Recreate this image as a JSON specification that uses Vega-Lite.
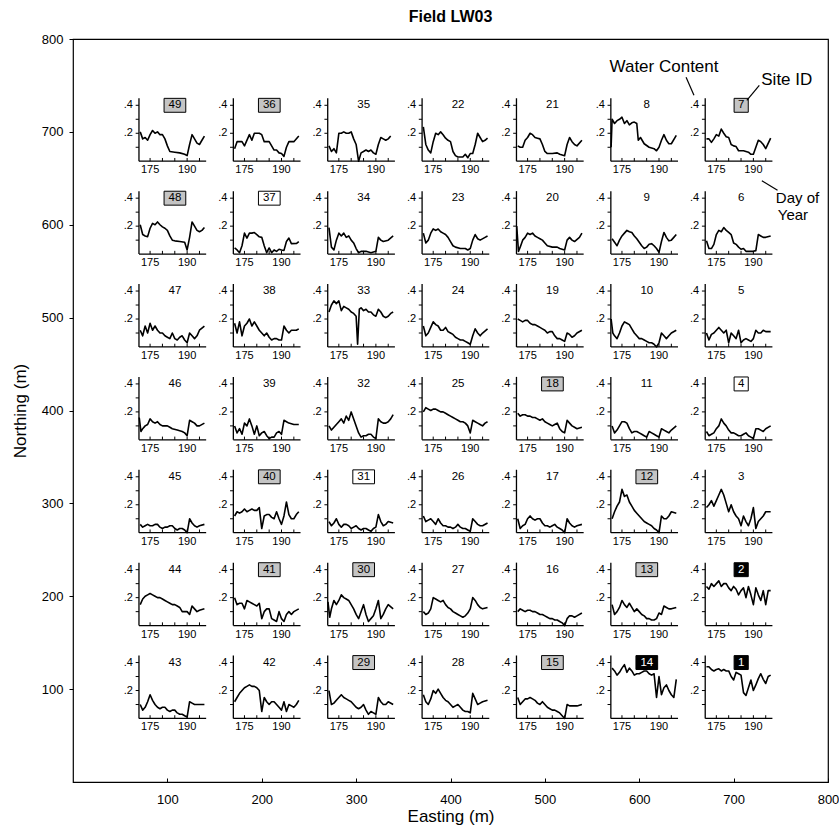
{
"$schema":"https://vega.github.io/schema/vega-lite/v6.json",
"width":755,"height":743,
"autosize":{"type":"none"},
"padding":{"left":73,"top":39,"right":11,"bottom":45},
"title":{"text":"Field LW03","fontSize":16,"fontWeight":"bold","font":"Liberation Sans","offset":8,"frame":"group","anchor":"middle","color":"black"},
"config":{"view":{"stroke":"black","strokeWidth":1.2},"font":"Liberation Sans",
"axis":{"grid":false,"domain":false,"tickColor":"black","labelColor":"black","titleColor":"black","labelFont":"Liberation Sans","titleFont":"Liberation Sans","labelFontSize":13,"titleFontSize":17,"titleFontWeight":"normal"},
"text":{"font":"Liberation Sans","color":"black"}},
"datasets":{
"sites":[
{"site":49,"easting":100,"northing":700,"box":"shaded"},{"site":48,"easting":100,"northing":600,"box":"shaded"},{"site":47,"easting":100,"northing":500,"box":"none"},{"site":46,"easting":100,"northing":400,"box":"none"},{"site":45,"easting":100,"northing":300,"box":"none"},{"site":44,"easting":100,"northing":200,"box":"none"},{"site":43,"easting":100,"northing":100,"box":"none"},
{"site":36,"easting":200,"northing":700,"box":"shaded"},{"site":37,"easting":200,"northing":600,"box":"white"},{"site":38,"easting":200,"northing":500,"box":"none"},{"site":39,"easting":200,"northing":400,"box":"none"},{"site":40,"easting":200,"northing":300,"box":"shaded"},{"site":41,"easting":200,"northing":200,"box":"shaded"},{"site":42,"easting":200,"northing":100,"box":"none"},
{"site":35,"easting":300,"northing":700,"box":"none"},{"site":34,"easting":300,"northing":600,"box":"none"},{"site":33,"easting":300,"northing":500,"box":"none"},{"site":32,"easting":300,"northing":400,"box":"none"},{"site":31,"easting":300,"northing":300,"box":"white"},{"site":30,"easting":300,"northing":200,"box":"shaded"},{"site":29,"easting":300,"northing":100,"box":"shaded"},
{"site":22,"easting":400,"northing":700,"box":"none"},{"site":23,"easting":400,"northing":600,"box":"none"},{"site":24,"easting":400,"northing":500,"box":"none"},{"site":25,"easting":400,"northing":400,"box":"none"},{"site":26,"easting":400,"northing":300,"box":"none"},{"site":27,"easting":400,"northing":200,"box":"none"},{"site":28,"easting":400,"northing":100,"box":"none"},
{"site":21,"easting":500,"northing":700,"box":"none"},{"site":20,"easting":500,"northing":600,"box":"none"},{"site":19,"easting":500,"northing":500,"box":"none"},{"site":18,"easting":500,"northing":400,"box":"shaded"},{"site":17,"easting":500,"northing":300,"box":"none"},{"site":16,"easting":500,"northing":200,"box":"none"},{"site":15,"easting":500,"northing":100,"box":"shaded"},
{"site":8,"easting":600,"northing":700,"box":"none"},{"site":9,"easting":600,"northing":600,"box":"none"},{"site":10,"easting":600,"northing":500,"box":"none"},{"site":11,"easting":600,"northing":400,"box":"none"},{"site":12,"easting":600,"northing":300,"box":"shaded"},{"site":13,"easting":600,"northing":200,"box":"shaded"},{"site":14,"easting":600,"northing":100,"box":"black"},
{"site":7,"easting":700,"northing":700,"box":"shaded"},{"site":6,"easting":700,"northing":600,"box":"none"},{"site":5,"easting":700,"northing":500,"box":"none"},{"site":4,"easting":700,"northing":400,"box":"white"},{"site":3,"easting":700,"northing":300,"box":"none"},{"site":2,"easting":700,"northing":200,"box":"black"},{"site":1,"easting":700,"northing":100,"box":"black"}
],
"notes":[
{"label":"Water Content","easting":568.5,"northing":769.6,"size":"large"},
{"label":"Site ID","easting":729.3,"northing":755.7,"size":"large"},
{"label":"Day of","easting":744.7,"northing":628.6,"size":"small"},
{"label":"Year","easting":746.8,"northing":610.3,"size":"small"}
],
"leaders":[
{"e1":649.6,"n1":758.8,"e2":658,"n2":739.5},
{"e1":727.2,"n1":750,"e2":714,"n2":734},
{"e1":729.9,"n1":647.4,"e2":746.5,"n2":637.2}
],
"wc":[
{"site":49,"day":171,"wc":0.21},{"site":49,"day":172,"wc":0.16},{"site":49,"day":173,"wc":0.17},{"site":49,"day":174,"wc":0.15},{"site":49,"day":175,"wc":0.19},{"site":49,"day":176,"wc":0.22},{"site":49,"day":177,"wc":0.2},{"site":49,"day":178,"wc":0.21},{"site":49,"day":179,"wc":0.19},{"site":49,"day":180,"wc":0.19},{"site":49,"day":181,"wc":0.16},{"site":49,"day":182,"wc":0.11},{"site":49,"day":183,"wc":0.07},{"site":49,"day":185,"wc":0.065},{"site":49,"day":187,"wc":0.06},{"site":49,"day":189,"wc":0.05},{"site":49,"day":190,"wc":0.04},{"site":49,"day":191,"wc":0.12},{"site":49,"day":192,"wc":0.19},{"site":49,"day":193,"wc":0.16},{"site":49,"day":194,"wc":0.13},{"site":49,"day":195,"wc":0.12},{"site":49,"day":196,"wc":0.15},{"site":49,"day":197,"wc":0.18},
{"site":36,"day":171,"wc":0.09},{"site":36,"day":172,"wc":0.14},{"site":36,"day":173,"wc":0.14},{"site":36,"day":174,"wc":0.14},{"site":36,"day":175,"wc":0.11},{"site":36,"day":177,"wc":0.19},{"site":36,"day":178,"wc":0.15},{"site":36,"day":179,"wc":0.2},{"site":36,"day":181,"wc":0.2},{"site":36,"day":182,"wc":0.19},{"site":36,"day":183,"wc":0.14},{"site":36,"day":185,"wc":0.14},{"site":36,"day":187,"wc":0.08},{"site":36,"day":188,"wc":0.08},{"site":36,"day":189,"wc":0.06},{"site":36,"day":190,"wc":0.055},{"site":36,"day":191,"wc":0.035},{"site":36,"day":192,"wc":0.1},{"site":36,"day":193,"wc":0.14},{"site":36,"day":195,"wc":0.14},{"site":36,"day":197,"wc":0.18},
{"site":35,"day":171,"wc":0.11},{"site":35,"day":172,"wc":0.07},{"site":35,"day":173,"wc":0.09},{"site":35,"day":174,"wc":0.06},{"site":35,"day":175,"wc":0.2},{"site":35,"day":176,"wc":0.2},{"site":35,"day":177,"wc":0.21},{"site":35,"day":178,"wc":0.2},{"site":35,"day":179,"wc":0.2},{"site":35,"day":180,"wc":0.21},{"site":35,"day":181,"wc":0.16},{"site":35,"day":182,"wc":0.12},{"site":35,"day":183,"wc":0.0},{"site":35,"day":184,"wc":0.06},{"site":35,"day":185,"wc":0.07},{"site":35,"day":186,"wc":0.08},{"site":35,"day":187,"wc":0.07},{"site":35,"day":188,"wc":0.08},{"site":35,"day":189,"wc":0.06},{"site":35,"day":190,"wc":0.05},{"site":35,"day":191,"wc":0.12},{"site":35,"day":192,"wc":0.17},{"site":35,"day":193,"wc":0.16},{"site":35,"day":194,"wc":0.15},{"site":35,"day":195,"wc":0.16},{"site":35,"day":196,"wc":0.18},
{"site":22,"day":171,"wc":0.245},{"site":22,"day":172,"wc":0.12},{"site":22,"day":173,"wc":0.08},{"site":22,"day":174,"wc":0.06},{"site":22,"day":175,"wc":0.14},{"site":22,"day":176,"wc":0.2},{"site":22,"day":177,"wc":0.19},{"site":22,"day":178,"wc":0.21},{"site":22,"day":179,"wc":0.19},{"site":22,"day":180,"wc":0.165},{"site":22,"day":181,"wc":0.15},{"site":22,"day":182,"wc":0.14},{"site":22,"day":183,"wc":0.07},{"site":22,"day":184,"wc":0.04},{"site":22,"day":185,"wc":0.03},{"site":22,"day":187,"wc":0.03},{"site":22,"day":188,"wc":0.05},{"site":22,"day":189,"wc":0.025},{"site":22,"day":190,"wc":0.055},{"site":22,"day":191,"wc":0.055},{"site":22,"day":192,"wc":0.12},{"site":22,"day":193,"wc":0.2},{"site":22,"day":194,"wc":0.17},{"site":22,"day":195,"wc":0.14},{"site":22,"day":196,"wc":0.15},{"site":22,"day":197,"wc":0.165},
{"site":21,"day":171,"wc":0.11},{"site":21,"day":172,"wc":0.1},{"site":21,"day":173,"wc":0.1},{"site":21,"day":174,"wc":0.15},{"site":21,"day":175,"wc":0.17},{"site":21,"day":176,"wc":0.2},{"site":21,"day":177,"wc":0.19},{"site":21,"day":178,"wc":0.17},{"site":21,"day":179,"wc":0.165},{"site":21,"day":180,"wc":0.16},{"site":21,"day":181,"wc":0.12},{"site":21,"day":182,"wc":0.07},{"site":21,"day":183,"wc":0.055},{"site":21,"day":185,"wc":0.055},{"site":21,"day":187,"wc":0.06},{"site":21,"day":188,"wc":0.05},{"site":21,"day":190,"wc":0.04},{"site":21,"day":191,"wc":0.12},{"site":21,"day":192,"wc":0.17},{"site":21,"day":193,"wc":0.14},{"site":21,"day":194,"wc":0.12},{"site":21,"day":195,"wc":0.11},{"site":21,"day":197,"wc":0.15},
{"site":8,"day":170.6,"wc":0.1},{"site":8,"day":171,"wc":0.3},{"site":8,"day":172,"wc":0.27},{"site":8,"day":173,"wc":0.29},{"site":8,"day":174,"wc":0.3},{"site":8,"day":175,"wc":0.315},{"site":8,"day":176,"wc":0.27},{"site":8,"day":177,"wc":0.29},{"site":8,"day":178,"wc":0.26},{"site":8,"day":179,"wc":0.275},{"site":8,"day":180,"wc":0.28},{"site":8,"day":181,"wc":0.27},{"site":8,"day":181.6,"wc":0.15},{"site":8,"day":182.5,"wc":0.17},{"site":8,"day":184,"wc":0.125},{"site":8,"day":186,"wc":0.1},{"site":8,"day":188,"wc":0.09},{"site":8,"day":189,"wc":0.075},{"site":8,"day":190,"wc":0.1},{"site":8,"day":191,"wc":0.15},{"site":8,"day":192,"wc":0.19},{"site":8,"day":193,"wc":0.15},{"site":8,"day":194,"wc":0.125},{"site":8,"day":195,"wc":0.125},{"site":8,"day":197,"wc":0.185},
{"site":7,"day":171,"wc":0.16},{"site":7,"day":172,"wc":0.16},{"site":7,"day":173,"wc":0.135},{"site":7,"day":174,"wc":0.16},{"site":7,"day":175,"wc":0.19},{"site":7,"day":176,"wc":0.18},{"site":7,"day":177,"wc":0.23},{"site":7,"day":178,"wc":0.2},{"site":7,"day":179,"wc":0.175},{"site":7,"day":180,"wc":0.17},{"site":7,"day":181,"wc":0.12},{"site":7,"day":182,"wc":0.11},{"site":7,"day":183,"wc":0.105},{"site":7,"day":184,"wc":0.075},{"site":7,"day":186,"wc":0.075},{"site":7,"day":188,"wc":0.065},{"site":7,"day":189,"wc":0.05},{"site":7,"day":190,"wc":0.05},{"site":7,"day":191,"wc":0.1},{"site":7,"day":192,"wc":0.15},{"site":7,"day":193,"wc":0.14},{"site":7,"day":194,"wc":0.12},{"site":7,"day":195,"wc":0.09},{"site":7,"day":197,"wc":0.165},
{"site":48,"day":171,"wc":0.21},{"site":48,"day":172,"wc":0.14},{"site":48,"day":173,"wc":0.13},{"site":48,"day":174,"wc":0.125},{"site":48,"day":175,"wc":0.185},{"site":48,"day":176,"wc":0.22},{"site":48,"day":177,"wc":0.21},{"site":48,"day":178,"wc":0.23},{"site":48,"day":179,"wc":0.21},{"site":48,"day":180,"wc":0.195},{"site":48,"day":181,"wc":0.185},{"site":48,"day":182,"wc":0.17},{"site":48,"day":183,"wc":0.13},{"site":48,"day":184,"wc":0.1},{"site":48,"day":185,"wc":0.095},{"site":48,"day":187,"wc":0.09},{"site":48,"day":189,"wc":0.085},{"site":48,"day":190,"wc":0.03},{"site":48,"day":191,"wc":0.12},{"site":48,"day":192,"wc":0.23},{"site":48,"day":193,"wc":0.2},{"site":48,"day":194,"wc":0.17},{"site":48,"day":195,"wc":0.16},{"site":48,"day":196,"wc":0.17},{"site":48,"day":197,"wc":0.19},
{"site":37,"day":171,"wc":0.044},{"site":37,"day":172,"wc":0.03},{"site":37,"day":173,"wc":0.01},{"site":37,"day":174,"wc":0.06},{"site":37,"day":175,"wc":0.15},{"site":37,"day":176,"wc":0.115},{"site":37,"day":177,"wc":0.15},{"site":37,"day":178,"wc":0.15},{"site":37,"day":179,"wc":0.154},{"site":37,"day":180,"wc":0.14},{"site":37,"day":181,"wc":0.124},{"site":37,"day":182,"wc":0.12},{"site":37,"day":183,"wc":0.06},{"site":37,"day":184,"wc":0.01},{"site":37,"day":185,"wc":0.044},{"site":37,"day":186,"wc":0.01},{"site":37,"day":187,"wc":0.03},{"site":37,"day":188,"wc":0.02},{"site":37,"day":189,"wc":0.035},{"site":37,"day":190,"wc":0.03},{"site":37,"day":191,"wc":0.027},{"site":37,"day":192,"wc":0.09},{"site":37,"day":193,"wc":0.115},{"site":37,"day":194,"wc":0.075},{"site":37,"day":196,"wc":0.076},{"site":37,"day":197,"wc":0.09},
{"site":34,"day":171,"wc":0.19},{"site":34,"day":172,"wc":0.05},{"site":34,"day":173,"wc":0.03},{"site":34,"day":174,"wc":0.1},{"site":34,"day":175,"wc":0.15},{"site":34,"day":176,"wc":0.13},{"site":34,"day":177,"wc":0.15},{"site":34,"day":178,"wc":0.12},{"site":34,"day":179,"wc":0.13},{"site":34,"day":180,"wc":0.1},{"site":34,"day":181,"wc":0.08},{"site":34,"day":182,"wc":0.04},{"site":34,"day":183,"wc":0.01},{"site":34,"day":184,"wc":0.02},{"site":34,"day":186,"wc":0.02},{"site":34,"day":188,"wc":0.01},{"site":34,"day":190,"wc":0.02},{"site":34,"day":191,"wc":0.12},{"site":34,"day":192,"wc":0.1},{"site":34,"day":193,"wc":0.09},{"site":34,"day":195,"wc":0.1},{"site":34,"day":197,"wc":0.13},
{"site":23,"day":171,"wc":0.15},{"site":23,"day":172,"wc":0.08},{"site":23,"day":173,"wc":0.1},{"site":23,"day":174,"wc":0.15},{"site":23,"day":175,"wc":0.18},{"site":23,"day":176,"wc":0.17},{"site":23,"day":177,"wc":0.18},{"site":23,"day":178,"wc":0.16},{"site":23,"day":179,"wc":0.15},{"site":23,"day":180,"wc":0.14},{"site":23,"day":181,"wc":0.12},{"site":23,"day":182,"wc":0.09},{"site":23,"day":183,"wc":0.06},{"site":23,"day":184,"wc":0.05},{"site":23,"day":186,"wc":0.04},{"site":23,"day":188,"wc":0.04},{"site":23,"day":189,"wc":0.03},{"site":23,"day":190,"wc":0.04},{"site":23,"day":191,"wc":0.1},{"site":23,"day":192,"wc":0.14},{"site":23,"day":193,"wc":0.11},{"site":23,"day":194,"wc":0.1},{"site":23,"day":196,"wc":0.12},{"site":23,"day":197,"wc":0.13},
{"site":20,"day":170.6,"wc":0.2},{"site":20,"day":171.3,"wc":0.02},{"site":20,"day":172,"wc":0.05},{"site":20,"day":173,"wc":0.1},{"site":20,"day":174,"wc":0.12},{"site":20,"day":175,"wc":0.15},{"site":20,"day":176,"wc":0.14},{"site":20,"day":177,"wc":0.15},{"site":20,"day":178,"wc":0.13},{"site":20,"day":179,"wc":0.12},{"site":20,"day":180,"wc":0.11},{"site":20,"day":181,"wc":0.1},{"site":20,"day":182,"wc":0.08},{"site":20,"day":183,"wc":0.06},{"site":20,"day":185,"wc":0.05},{"site":20,"day":187,"wc":0.05},{"site":20,"day":188,"wc":0.04},{"site":20,"day":190,"wc":0.03},{"site":20,"day":191,"wc":0.1},{"site":20,"day":192,"wc":0.12},{"site":20,"day":193,"wc":0.1},{"site":20,"day":194,"wc":0.09},{"site":20,"day":196,"wc":0.12},{"site":20,"day":197,"wc":0.15},
{"site":9,"day":171,"wc":0.11},{"site":9,"day":172,"wc":0.085},{"site":9,"day":173,"wc":0.06},{"site":9,"day":174,"wc":0.1},{"site":9,"day":175,"wc":0.13},{"site":9,"day":176,"wc":0.15},{"site":9,"day":177,"wc":0.17},{"site":9,"day":178,"wc":0.16},{"site":9,"day":179,"wc":0.155},{"site":9,"day":180,"wc":0.13},{"site":9,"day":181,"wc":0.11},{"site":9,"day":182,"wc":0.085},{"site":9,"day":183,"wc":0.06},{"site":9,"day":184,"wc":0.04},{"site":9,"day":185,"wc":0.05},{"site":9,"day":186,"wc":0.07},{"site":9,"day":187,"wc":0.075},{"site":9,"day":188,"wc":0.06},{"site":9,"day":189,"wc":0.04},{"site":9,"day":190,"wc":0.013},{"site":9,"day":191,"wc":0.09},{"site":9,"day":192,"wc":0.155},{"site":9,"day":193,"wc":0.12},{"site":9,"day":194,"wc":0.095},{"site":9,"day":195,"wc":0.1},{"site":9,"day":196,"wc":0.12},{"site":9,"day":197,"wc":0.14},
{"site":6,"day":171,"wc":0.095},{"site":6,"day":172,"wc":0.04},{"site":6,"day":173,"wc":0.04},{"site":6,"day":174,"wc":0.07},{"site":6,"day":175,"wc":0.14},{"site":6,"day":176,"wc":0.17},{"site":6,"day":177,"wc":0.16},{"site":6,"day":178,"wc":0.19},{"site":6,"day":179,"wc":0.17},{"site":6,"day":180,"wc":0.155},{"site":6,"day":181,"wc":0.14},{"site":6,"day":182,"wc":0.08},{"site":6,"day":183,"wc":0.07},{"site":6,"day":184,"wc":0.05},{"site":6,"day":185,"wc":0.035},{"site":6,"day":186,"wc":0.04},{"site":6,"day":187,"wc":0.02},{"site":6,"day":188,"wc":0.02},{"site":6,"day":190,"wc":0.02},{"site":6,"day":191,"wc":0.025},{"site":6,"day":192,"wc":0.14},{"site":6,"day":193,"wc":0.13},{"site":6,"day":194,"wc":0.12},{"site":6,"day":195,"wc":0.12},{"site":6,"day":197,"wc":0.13},
{"site":47,"day":171,"wc":0.12},{"site":47,"day":172,"wc":0.08},{"site":47,"day":173,"wc":0.15},{"site":47,"day":174,"wc":0.1},{"site":47,"day":175,"wc":0.17},{"site":47,"day":176,"wc":0.12},{"site":47,"day":177,"wc":0.15},{"site":47,"day":178,"wc":0.12},{"site":47,"day":179,"wc":0.1},{"site":47,"day":180,"wc":0.1},{"site":47,"day":181,"wc":0.08},{"site":47,"day":182,"wc":0.07},{"site":47,"day":183,"wc":0.06},{"site":47,"day":184,"wc":0.1},{"site":47,"day":185,"wc":0.06},{"site":47,"day":186,"wc":0.05},{"site":47,"day":187,"wc":0.07},{"site":47,"day":188,"wc":0.08},{"site":47,"day":189,"wc":0.05},{"site":47,"day":190,"wc":0.03},{"site":47,"day":191,"wc":0.1},{"site":47,"day":192,"wc":0.08},{"site":47,"day":193,"wc":0.06},{"site":47,"day":194,"wc":0.08},{"site":47,"day":195,"wc":0.12},{"site":47,"day":197,"wc":0.15},
{"site":38,"day":171,"wc":0.17},{"site":38,"day":172,"wc":0.1},{"site":38,"day":173,"wc":0.18},{"site":38,"day":174,"wc":0.08},{"site":38,"day":175,"wc":0.15},{"site":38,"day":176,"wc":0.17},{"site":38,"day":177,"wc":0.2},{"site":38,"day":178,"wc":0.15},{"site":38,"day":179,"wc":0.18},{"site":38,"day":180,"wc":0.15},{"site":38,"day":181,"wc":0.12},{"site":38,"day":182,"wc":0.1},{"site":38,"day":183,"wc":0.08},{"site":38,"day":184,"wc":0.1},{"site":38,"day":185,"wc":0.07},{"site":38,"day":186,"wc":0.05},{"site":38,"day":187,"wc":0.06},{"site":38,"day":188,"wc":0.06},{"site":38,"day":189,"wc":0.05},{"site":38,"day":190,"wc":0.05},{"site":38,"day":191,"wc":0.15},{"site":38,"day":192,"wc":0.12},{"site":38,"day":193,"wc":0.1},{"site":38,"day":194,"wc":0.12},{"site":38,"day":196,"wc":0.12},{"site":38,"day":197,"wc":0.13},
{"site":33,"day":171,"wc":0.25},{"site":33,"day":172,"wc":0.3},{"site":33,"day":173,"wc":0.33},{"site":33,"day":174,"wc":0.31},{"site":33,"day":175,"wc":0.33},{"site":33,"day":176,"wc":0.26},{"site":33,"day":177,"wc":0.29},{"site":33,"day":178,"wc":0.28},{"site":33,"day":179,"wc":0.27},{"site":33,"day":180,"wc":0.25},{"site":33,"day":181,"wc":0.24},{"site":33,"day":182,"wc":0.22},{"site":33,"day":182.6,"wc":0.02},{"site":33,"day":183.3,"wc":0.27},{"site":33,"day":184,"wc":0.28},{"site":33,"day":185,"wc":0.26},{"site":33,"day":186,"wc":0.27},{"site":33,"day":187,"wc":0.25},{"site":33,"day":188,"wc":0.25},{"site":33,"day":189,"wc":0.23},{"site":33,"day":190,"wc":0.22},{"site":33,"day":191,"wc":0.27},{"site":33,"day":192,"wc":0.25},{"site":33,"day":193,"wc":0.22},{"site":33,"day":194,"wc":0.21},{"site":33,"day":195,"wc":0.22},{"site":33,"day":196,"wc":0.24},{"site":33,"day":197,"wc":0.25},
{"site":24,"day":171,"wc":0.15},{"site":24,"day":172,"wc":0.08},{"site":24,"day":173,"wc":0.1},{"site":24,"day":174,"wc":0.14},{"site":24,"day":175,"wc":0.18},{"site":24,"day":176,"wc":0.16},{"site":24,"day":177,"wc":0.15},{"site":24,"day":178,"wc":0.12},{"site":24,"day":179,"wc":0.12},{"site":24,"day":180,"wc":0.14},{"site":24,"day":181,"wc":0.11},{"site":24,"day":182,"wc":0.1},{"site":24,"day":183,"wc":0.09},{"site":24,"day":184,"wc":0.07},{"site":24,"day":185,"wc":0.06},{"site":24,"day":186,"wc":0.05},{"site":24,"day":187,"wc":0.05},{"site":24,"day":188,"wc":0.04},{"site":24,"day":189,"wc":0.03},{"site":24,"day":190,"wc":0.02},{"site":24,"day":191,"wc":0.08},{"site":24,"day":192,"wc":0.13},{"site":24,"day":193,"wc":0.1},{"site":24,"day":194,"wc":0.08},{"site":24,"day":195,"wc":0.1},{"site":24,"day":197,"wc":0.13},
{"site":19,"day":171,"wc":0.2},{"site":19,"day":172,"wc":0.19},{"site":19,"day":173,"wc":0.18},{"site":19,"day":174,"wc":0.19},{"site":19,"day":175,"wc":0.19},{"site":19,"day":176,"wc":0.17},{"site":19,"day":177,"wc":0.16},{"site":19,"day":178,"wc":0.16},{"site":19,"day":179,"wc":0.15},{"site":19,"day":180,"wc":0.14},{"site":19,"day":181,"wc":0.13},{"site":19,"day":182,"wc":0.12},{"site":19,"day":183,"wc":0.1},{"site":19,"day":184,"wc":0.11},{"site":19,"day":185,"wc":0.11},{"site":19,"day":186,"wc":0.08},{"site":19,"day":187,"wc":0.06},{"site":19,"day":188,"wc":0.06},{"site":19,"day":189,"wc":0.05},{"site":19,"day":190,"wc":0.04},{"site":19,"day":191,"wc":0.1},{"site":19,"day":192,"wc":0.09},{"site":19,"day":193,"wc":0.07},{"site":19,"day":194,"wc":0.08},{"site":19,"day":195,"wc":0.1},{"site":19,"day":197,"wc":0.12},
{"site":10,"day":170.6,"wc":0.2},{"site":10,"day":171.3,"wc":0.1},{"site":10,"day":172,"wc":0.08},{"site":10,"day":173,"wc":0.06},{"site":10,"day":174,"wc":0.1},{"site":10,"day":175,"wc":0.15},{"site":10,"day":176,"wc":0.18},{"site":10,"day":177,"wc":0.17},{"site":10,"day":178,"wc":0.16},{"site":10,"day":179,"wc":0.13},{"site":10,"day":180,"wc":0.1},{"site":10,"day":181,"wc":0.08},{"site":10,"day":182,"wc":0.06},{"site":10,"day":183,"wc":0.06},{"site":10,"day":184,"wc":0.05},{"site":10,"day":185,"wc":0.04},{"site":10,"day":186,"wc":0.03},{"site":10,"day":187,"wc":0.03},{"site":10,"day":188,"wc":0.02},{"site":10,"day":189,"wc":0.0},{"site":10,"day":190,"wc":0.03},{"site":10,"day":191,"wc":0.1},{"site":10,"day":192,"wc":0.08},{"site":10,"day":193,"wc":0.06},{"site":10,"day":194,"wc":0.08},{"site":10,"day":195,"wc":0.1},{"site":10,"day":197,"wc":0.12},
{"site":5,"day":171,"wc":0.1},{"site":5,"day":172,"wc":0.05},{"site":5,"day":173,"wc":0.09},{"site":5,"day":174,"wc":0.1},{"site":5,"day":175,"wc":0.12},{"site":5,"day":176,"wc":0.14},{"site":5,"day":177,"wc":0.12},{"site":5,"day":178,"wc":0.1},{"site":5,"day":179,"wc":0.12},{"site":5,"day":180,"wc":0.03},{"site":5,"day":181,"wc":0.1},{"site":5,"day":182,"wc":0.08},{"site":5,"day":183,"wc":0.06},{"site":5,"day":184,"wc":0.12},{"site":5,"day":185,"wc":0.03},{"site":5,"day":186,"wc":0.05},{"site":5,"day":187,"wc":0.06},{"site":5,"day":188,"wc":0.05},{"site":5,"day":189,"wc":0.04},{"site":5,"day":190,"wc":0.06},{"site":5,"day":191,"wc":0.12},{"site":5,"day":192,"wc":0.1},{"site":5,"day":193,"wc":0.1},{"site":5,"day":194,"wc":0.12},{"site":5,"day":195,"wc":0.11},{"site":5,"day":197,"wc":0.11},
{"site":46,"day":170.6,"wc":0.16},{"site":46,"day":171.3,"wc":0.06},{"site":46,"day":172,"wc":0.08},{"site":46,"day":173,"wc":0.1},{"site":46,"day":174,"wc":0.11},{"site":46,"day":175,"wc":0.15},{"site":46,"day":176,"wc":0.13},{"site":46,"day":177,"wc":0.12},{"site":46,"day":178,"wc":0.13},{"site":46,"day":179,"wc":0.11},{"site":46,"day":180,"wc":0.1},{"site":46,"day":182,"wc":0.1},{"site":46,"day":183,"wc":0.09},{"site":46,"day":184,"wc":0.08},{"site":46,"day":186,"wc":0.07},{"site":46,"day":188,"wc":0.06},{"site":46,"day":189,"wc":0.05},{"site":46,"day":190,"wc":0.03},{"site":46,"day":191,"wc":0.14},{"site":46,"day":192,"wc":0.13},{"site":46,"day":193,"wc":0.12},{"site":46,"day":194,"wc":0.1},{"site":46,"day":195,"wc":0.1},{"site":46,"day":197,"wc":0.12},
{"site":39,"day":171,"wc":0.1},{"site":39,"day":172,"wc":0.05},{"site":39,"day":173,"wc":0.08},{"site":39,"day":174,"wc":0.04},{"site":39,"day":175,"wc":0.12},{"site":39,"day":176,"wc":0.1},{"site":39,"day":177,"wc":0.15},{"site":39,"day":178,"wc":0.1},{"site":39,"day":179,"wc":0.04},{"site":39,"day":180,"wc":0.1},{"site":39,"day":181,"wc":0.03},{"site":39,"day":182,"wc":0.05},{"site":39,"day":183,"wc":0.06},{"site":39,"day":184,"wc":0.03},{"site":39,"day":185,"wc":0.01},{"site":39,"day":186,"wc":0.02},{"site":39,"day":187,"wc":0.02},{"site":39,"day":188,"wc":0.05},{"site":39,"day":189,"wc":0.06},{"site":39,"day":190,"wc":0.04},{"site":39,"day":191,"wc":0.14},{"site":39,"day":192,"wc":0.13},{"site":39,"day":193,"wc":0.12},{"site":39,"day":195,"wc":0.11},{"site":39,"day":197,"wc":0.11},
{"site":32,"day":171,"wc":0.1},{"site":32,"day":172,"wc":0.07},{"site":32,"day":173,"wc":0.09},{"site":32,"day":174,"wc":0.11},{"site":32,"day":175,"wc":0.13},{"site":32,"day":176,"wc":0.15},{"site":32,"day":177,"wc":0.12},{"site":32,"day":178,"wc":0.17},{"site":32,"day":179,"wc":0.14},{"site":32,"day":180,"wc":0.2},{"site":32,"day":181,"wc":0.15},{"site":32,"day":182,"wc":0.1},{"site":32,"day":183,"wc":0.05},{"site":32,"day":184,"wc":0.02},{"site":32,"day":185,"wc":0.03},{"site":32,"day":186,"wc":0.03},{"site":32,"day":187,"wc":0.04},{"site":32,"day":188,"wc":0.04},{"site":32,"day":189,"wc":0.02},{"site":32,"day":190,"wc":0.01},{"site":32,"day":191,"wc":0.15},{"site":32,"day":192,"wc":0.13},{"site":32,"day":193,"wc":0.12},{"site":32,"day":194,"wc":0.12},{"site":32,"day":195,"wc":0.13},{"site":32,"day":196,"wc":0.15},{"site":32,"day":197,"wc":0.18},
{"site":25,"day":171,"wc":0.2},{"site":25,"day":172,"wc":0.23},{"site":25,"day":173,"wc":0.22},{"site":25,"day":174,"wc":0.21},{"site":25,"day":175,"wc":0.22},{"site":25,"day":176,"wc":0.22},{"site":25,"day":177,"wc":0.21},{"site":25,"day":178,"wc":0.2},{"site":25,"day":179,"wc":0.2},{"site":25,"day":180,"wc":0.19},{"site":25,"day":181,"wc":0.18},{"site":25,"day":182,"wc":0.17},{"site":25,"day":183,"wc":0.16},{"site":25,"day":184,"wc":0.15},{"site":25,"day":185,"wc":0.14},{"site":25,"day":186,"wc":0.13},{"site":25,"day":187,"wc":0.13},{"site":25,"day":188,"wc":0.12},{"site":25,"day":189,"wc":0.1},{"site":25,"day":190,"wc":0.05},{"site":25,"day":191,"wc":0.14},{"site":25,"day":192,"wc":0.13},{"site":25,"day":193,"wc":0.12},{"site":25,"day":194,"wc":0.11},{"site":25,"day":195,"wc":0.1},{"site":25,"day":196,"wc":0.12},{"site":25,"day":197,"wc":0.13},
{"site":18,"day":171,"wc":0.19},{"site":18,"day":172,"wc":0.17},{"site":18,"day":173,"wc":0.18},{"site":18,"day":174,"wc":0.18},{"site":18,"day":175,"wc":0.17},{"site":18,"day":176,"wc":0.17},{"site":18,"day":177,"wc":0.16},{"site":18,"day":178,"wc":0.16},{"site":18,"day":179,"wc":0.15},{"site":18,"day":180,"wc":0.14},{"site":18,"day":181,"wc":0.15},{"site":18,"day":182,"wc":0.13},{"site":18,"day":183,"wc":0.12},{"site":18,"day":184,"wc":0.11},{"site":18,"day":185,"wc":0.1},{"site":18,"day":186,"wc":0.11},{"site":18,"day":187,"wc":0.12},{"site":18,"day":188,"wc":0.08},{"site":18,"day":189,"wc":0.06},{"site":18,"day":190,"wc":0.05},{"site":18,"day":191,"wc":0.14},{"site":18,"day":192,"wc":0.12},{"site":18,"day":193,"wc":0.1},{"site":18,"day":194,"wc":0.09},{"site":18,"day":195,"wc":0.08},{"site":18,"day":197,"wc":0.09},
{"site":11,"day":171,"wc":0.1},{"site":11,"day":172,"wc":0.05},{"site":11,"day":173,"wc":0.07},{"site":11,"day":174,"wc":0.1},{"site":11,"day":175,"wc":0.13},{"site":11,"day":176,"wc":0.13},{"site":11,"day":177,"wc":0.12},{"site":11,"day":178,"wc":0.08},{"site":11,"day":179,"wc":0.05},{"site":11,"day":180,"wc":0.06},{"site":11,"day":181,"wc":0.06},{"site":11,"day":182,"wc":0.05},{"site":11,"day":183,"wc":0.04},{"site":11,"day":184,"wc":0.03},{"site":11,"day":185,"wc":0.02},{"site":11,"day":186,"wc":0.06},{"site":11,"day":187,"wc":0.05},{"site":11,"day":188,"wc":0.04},{"site":11,"day":189,"wc":0.03},{"site":11,"day":190,"wc":0.02},{"site":11,"day":191,"wc":0.08},{"site":11,"day":192,"wc":0.07},{"site":11,"day":193,"wc":0.06},{"site":11,"day":194,"wc":0.05},{"site":11,"day":195,"wc":0.07},{"site":11,"day":197,"wc":0.1},
{"site":4,"day":171,"wc":0.06},{"site":4,"day":172,"wc":0.03},{"site":4,"day":173,"wc":0.04},{"site":4,"day":174,"wc":0.05},{"site":4,"day":175,"wc":0.08},{"site":4,"day":176,"wc":0.1},{"site":4,"day":177,"wc":0.15},{"site":4,"day":178,"wc":0.12},{"site":4,"day":179,"wc":0.1},{"site":4,"day":180,"wc":0.07},{"site":4,"day":181,"wc":0.05},{"site":4,"day":182,"wc":0.05},{"site":4,"day":183,"wc":0.04},{"site":4,"day":184,"wc":0.03},{"site":4,"day":185,"wc":0.03},{"site":4,"day":186,"wc":0.04},{"site":4,"day":187,"wc":0.05},{"site":4,"day":188,"wc":0.03},{"site":4,"day":189,"wc":0.02},{"site":4,"day":190,"wc":0.01},{"site":4,"day":191,"wc":0.08},{"site":4,"day":192,"wc":0.08},{"site":4,"day":193,"wc":0.07},{"site":4,"day":194,"wc":0.06},{"site":4,"day":195,"wc":0.08},{"site":4,"day":197,"wc":0.1},
{"site":45,"day":171,"wc":0.06},{"site":45,"day":172,"wc":0.04},{"site":45,"day":173,"wc":0.05},{"site":45,"day":174,"wc":0.06},{"site":45,"day":175,"wc":0.05},{"site":45,"day":176,"wc":0.05},{"site":45,"day":177,"wc":0.06},{"site":45,"day":178,"wc":0.06},{"site":45,"day":179,"wc":0.04},{"site":45,"day":180,"wc":0.03},{"site":45,"day":181,"wc":0.04},{"site":45,"day":182,"wc":0.04},{"site":45,"day":183,"wc":0.05},{"site":45,"day":184,"wc":0.05},{"site":45,"day":185,"wc":0.03},{"site":45,"day":186,"wc":0.02},{"site":45,"day":187,"wc":0.03},{"site":45,"day":188,"wc":0.03},{"site":45,"day":189,"wc":0.02},{"site":45,"day":190,"wc":0.0},{"site":45,"day":191,"wc":0.1},{"site":45,"day":192,"wc":0.07},{"site":45,"day":193,"wc":0.05},{"site":45,"day":194,"wc":0.04},{"site":45,"day":195,"wc":0.05},{"site":45,"day":197,"wc":0.06},
{"site":40,"day":171,"wc":0.12},{"site":40,"day":172,"wc":0.15},{"site":40,"day":173,"wc":0.14},{"site":40,"day":174,"wc":0.15},{"site":40,"day":175,"wc":0.17},{"site":40,"day":176,"wc":0.15},{"site":40,"day":177,"wc":0.16},{"site":40,"day":178,"wc":0.17},{"site":40,"day":179,"wc":0.16},{"site":40,"day":180,"wc":0.16},{"site":40,"day":181,"wc":0.18},{"site":40,"day":182,"wc":0.03},{"site":40,"day":183,"wc":0.12},{"site":40,"day":184,"wc":0.13},{"site":40,"day":185,"wc":0.13},{"site":40,"day":186,"wc":0.11},{"site":40,"day":187,"wc":0.1},{"site":40,"day":188,"wc":0.15},{"site":40,"day":189,"wc":0.1},{"site":40,"day":190,"wc":0.06},{"site":40,"day":191,"wc":0.12},{"site":40,"day":192,"wc":0.22},{"site":40,"day":193,"wc":0.13},{"site":40,"day":194,"wc":0.1},{"site":40,"day":195,"wc":0.1},{"site":40,"day":196,"wc":0.13},{"site":40,"day":197,"wc":0.15},
{"site":31,"day":171,"wc":0.08},{"site":31,"day":172,"wc":0.05},{"site":31,"day":173,"wc":0.07},{"site":31,"day":174,"wc":0.1},{"site":31,"day":175,"wc":0.06},{"site":31,"day":176,"wc":0.04},{"site":31,"day":177,"wc":0.06},{"site":31,"day":178,"wc":0.06},{"site":31,"day":179,"wc":0.05},{"site":31,"day":180,"wc":0.03},{"site":31,"day":181,"wc":0.04},{"site":31,"day":182,"wc":0.05},{"site":31,"day":183,"wc":0.03},{"site":31,"day":184,"wc":0.02},{"site":31,"day":185,"wc":0.03},{"site":31,"day":186,"wc":0.03},{"site":31,"day":187,"wc":0.02},{"site":31,"day":188,"wc":0.01},{"site":31,"day":189,"wc":0.03},{"site":31,"day":190,"wc":0.04},{"site":31,"day":191,"wc":0.13},{"site":31,"day":192,"wc":0.08},{"site":31,"day":193,"wc":0.05},{"site":31,"day":194,"wc":0.06},{"site":31,"day":195,"wc":0.08},{"site":31,"day":197,"wc":0.07},
{"site":26,"day":171,"wc":0.12},{"site":26,"day":172,"wc":0.08},{"site":26,"day":173,"wc":0.09},{"site":26,"day":174,"wc":0.1},{"site":26,"day":175,"wc":0.08},{"site":26,"day":176,"wc":0.06},{"site":26,"day":177,"wc":0.1},{"site":26,"day":178,"wc":0.07},{"site":26,"day":179,"wc":0.05},{"site":26,"day":180,"wc":0.05},{"site":26,"day":181,"wc":0.04},{"site":26,"day":182,"wc":0.04},{"site":26,"day":183,"wc":0.03},{"site":26,"day":184,"wc":0.04},{"site":26,"day":185,"wc":0.06},{"site":26,"day":186,"wc":0.04},{"site":26,"day":187,"wc":0.03},{"site":26,"day":188,"wc":0.03},{"site":26,"day":189,"wc":0.02},{"site":26,"day":190,"wc":0.01},{"site":26,"day":191,"wc":0.1},{"site":26,"day":192,"wc":0.08},{"site":26,"day":193,"wc":0.06},{"site":26,"day":194,"wc":0.05},{"site":26,"day":195,"wc":0.05},{"site":26,"day":197,"wc":0.07},
{"site":17,"day":171,"wc":0.1},{"site":17,"day":172,"wc":0.03},{"site":17,"day":173,"wc":0.05},{"site":17,"day":174,"wc":0.06},{"site":17,"day":175,"wc":0.1},{"site":17,"day":176,"wc":0.12},{"site":17,"day":177,"wc":0.1},{"site":17,"day":178,"wc":0.09},{"site":17,"day":179,"wc":0.1},{"site":17,"day":180,"wc":0.1},{"site":17,"day":181,"wc":0.07},{"site":17,"day":182,"wc":0.05},{"site":17,"day":183,"wc":0.05},{"site":17,"day":184,"wc":0.04},{"site":17,"day":185,"wc":0.05},{"site":17,"day":186,"wc":0.06},{"site":17,"day":187,"wc":0.04},{"site":17,"day":188,"wc":0.03},{"site":17,"day":189,"wc":0.02},{"site":17,"day":190,"wc":0.0},{"site":17,"day":191,"wc":0.1},{"site":17,"day":192,"wc":0.07},{"site":17,"day":193,"wc":0.05},{"site":17,"day":194,"wc":0.04},{"site":17,"day":195,"wc":0.05},{"site":17,"day":197,"wc":0.06},
{"site":12,"day":171,"wc":0.1},{"site":12,"day":172,"wc":0.15},{"site":12,"day":173,"wc":0.19},{"site":12,"day":174,"wc":0.22},{"site":12,"day":175,"wc":0.31},{"site":12,"day":176,"wc":0.26},{"site":12,"day":177,"wc":0.27},{"site":12,"day":178,"wc":0.22},{"site":12,"day":179,"wc":0.19},{"site":12,"day":180,"wc":0.16},{"site":12,"day":181,"wc":0.14},{"site":12,"day":182,"wc":0.12},{"site":12,"day":183,"wc":0.1},{"site":12,"day":184,"wc":0.08},{"site":12,"day":185,"wc":0.07},{"site":12,"day":186,"wc":0.06},{"site":12,"day":187,"wc":0.05},{"site":12,"day":188,"wc":0.03},{"site":12,"day":189,"wc":0.02},{"site":12,"day":190,"wc":0.0},{"site":12,"day":191,"wc":0.12},{"site":12,"day":192,"wc":0.1},{"site":12,"day":193,"wc":0.1},{"site":12,"day":194,"wc":0.12},{"site":12,"day":195,"wc":0.15},{"site":12,"day":197,"wc":0.14},
{"site":3,"day":171,"wc":0.18},{"site":3,"day":172,"wc":0.2},{"site":3,"day":173,"wc":0.23},{"site":3,"day":174,"wc":0.19},{"site":3,"day":175,"wc":0.23},{"site":3,"day":176,"wc":0.27},{"site":3,"day":177,"wc":0.31},{"site":3,"day":178,"wc":0.27},{"site":3,"day":179,"wc":0.21},{"site":3,"day":180,"wc":0.15},{"site":3,"day":181,"wc":0.2},{"site":3,"day":182,"wc":0.15},{"site":3,"day":183,"wc":0.12},{"site":3,"day":184,"wc":0.1},{"site":3,"day":185,"wc":0.05},{"site":3,"day":186,"wc":0.12},{"site":3,"day":187,"wc":0.08},{"site":3,"day":188,"wc":0.05},{"site":3,"day":189,"wc":0.1},{"site":3,"day":190,"wc":0.18},{"site":3,"day":191,"wc":0.03},{"site":3,"day":192,"wc":0.08},{"site":3,"day":193,"wc":0.1},{"site":3,"day":194,"wc":0.12},{"site":3,"day":195,"wc":0.15},{"site":3,"day":197,"wc":0.15},
{"site":44,"day":171,"wc":0.15},{"site":44,"day":172,"wc":0.19},{"site":44,"day":173,"wc":0.21},{"site":44,"day":174,"wc":0.22},{"site":44,"day":175,"wc":0.23},{"site":44,"day":176,"wc":0.22},{"site":44,"day":177,"wc":0.21},{"site":44,"day":178,"wc":0.2},{"site":44,"day":179,"wc":0.2},{"site":44,"day":180,"wc":0.19},{"site":44,"day":181,"wc":0.18},{"site":44,"day":182,"wc":0.17},{"site":44,"day":183,"wc":0.16},{"site":44,"day":184,"wc":0.15},{"site":44,"day":185,"wc":0.15},{"site":44,"day":186,"wc":0.14},{"site":44,"day":187,"wc":0.13},{"site":44,"day":188,"wc":0.1},{"site":44,"day":189,"wc":0.1},{"site":44,"day":190,"wc":0.1},{"site":44,"day":191,"wc":0.08},{"site":44,"day":192,"wc":0.14},{"site":44,"day":193,"wc":0.12},{"site":44,"day":194,"wc":0.1},{"site":44,"day":195,"wc":0.11},{"site":44,"day":197,"wc":0.12},
{"site":41,"day":171,"wc":0.2},{"site":41,"day":172,"wc":0.15},{"site":41,"day":173,"wc":0.16},{"site":41,"day":174,"wc":0.16},{"site":41,"day":175,"wc":0.12},{"site":41,"day":176,"wc":0.18},{"site":41,"day":177,"wc":0.17},{"site":41,"day":178,"wc":0.16},{"site":41,"day":179,"wc":0.15},{"site":41,"day":180,"wc":0.14},{"site":41,"day":181,"wc":0.16},{"site":41,"day":182,"wc":0.05},{"site":41,"day":183,"wc":0.1},{"site":41,"day":184,"wc":0.12},{"site":41,"day":185,"wc":0.12},{"site":41,"day":186,"wc":0.05},{"site":41,"day":187,"wc":0.04},{"site":41,"day":188,"wc":0.03},{"site":41,"day":189,"wc":0.1},{"site":41,"day":190,"wc":0.05},{"site":41,"day":191,"wc":0.03},{"site":41,"day":192,"wc":0.08},{"site":41,"day":193,"wc":0.1},{"site":41,"day":194,"wc":0.08},{"site":41,"day":195,"wc":0.1},{"site":41,"day":197,"wc":0.12},
{"site":30,"day":170.6,"wc":0.17},{"site":30,"day":171.3,"wc":0.06},{"site":30,"day":172,"wc":0.12},{"site":30,"day":173,"wc":0.18},{"site":30,"day":174,"wc":0.15},{"site":30,"day":175,"wc":0.18},{"site":30,"day":176,"wc":0.22},{"site":30,"day":177,"wc":0.2},{"site":30,"day":178,"wc":0.19},{"site":30,"day":179,"wc":0.18},{"site":30,"day":180,"wc":0.15},{"site":30,"day":181,"wc":0.12},{"site":30,"day":182,"wc":0.08},{"site":30,"day":183,"wc":0.05},{"site":30,"day":184,"wc":0.1},{"site":30,"day":185,"wc":0.15},{"site":30,"day":186,"wc":0.08},{"site":30,"day":187,"wc":0.03},{"site":30,"day":188,"wc":0.05},{"site":30,"day":189,"wc":0.07},{"site":30,"day":190,"wc":0.12},{"site":30,"day":191,"wc":0.18},{"site":30,"day":192,"wc":0.05},{"site":30,"day":193,"wc":0.08},{"site":30,"day":194,"wc":0.12},{"site":30,"day":195,"wc":0.15},{"site":30,"day":197,"wc":0.12},
{"site":27,"day":171,"wc":0.1},{"site":27,"day":172,"wc":0.08},{"site":27,"day":173,"wc":0.09},{"site":27,"day":174,"wc":0.12},{"site":27,"day":175,"wc":0.2},{"site":27,"day":176,"wc":0.19},{"site":27,"day":177,"wc":0.18},{"site":27,"day":178,"wc":0.17},{"site":27,"day":179,"wc":0.18},{"site":27,"day":180,"wc":0.15},{"site":27,"day":181,"wc":0.13},{"site":27,"day":182,"wc":0.12},{"site":27,"day":183,"wc":0.1},{"site":27,"day":184,"wc":0.09},{"site":27,"day":185,"wc":0.08},{"site":27,"day":186,"wc":0.07},{"site":27,"day":187,"wc":0.06},{"site":27,"day":188,"wc":0.07},{"site":27,"day":189,"wc":0.09},{"site":27,"day":190,"wc":0.12},{"site":27,"day":191,"wc":0.2},{"site":27,"day":192,"wc":0.18},{"site":27,"day":193,"wc":0.15},{"site":27,"day":194,"wc":0.13},{"site":27,"day":195,"wc":0.12},{"site":27,"day":197,"wc":0.13},
{"site":16,"day":171,"wc":0.1},{"site":16,"day":172,"wc":0.12},{"site":16,"day":173,"wc":0.11},{"site":16,"day":174,"wc":0.1},{"site":16,"day":175,"wc":0.11},{"site":16,"day":176,"wc":0.11},{"site":16,"day":177,"wc":0.1},{"site":16,"day":178,"wc":0.1},{"site":16,"day":179,"wc":0.09},{"site":16,"day":180,"wc":0.08},{"site":16,"day":181,"wc":0.08},{"site":16,"day":182,"wc":0.07},{"site":16,"day":183,"wc":0.06},{"site":16,"day":184,"wc":0.05},{"site":16,"day":185,"wc":0.05},{"site":16,"day":186,"wc":0.04},{"site":16,"day":187,"wc":0.04},{"site":16,"day":188,"wc":0.03},{"site":16,"day":189,"wc":0.02},{"site":16,"day":190,"wc":0.0},{"site":16,"day":191,"wc":0.05},{"site":16,"day":192,"wc":0.07},{"site":16,"day":193,"wc":0.07},{"site":16,"day":194,"wc":0.06},{"site":16,"day":195,"wc":0.07},{"site":16,"day":197,"wc":0.09},
{"site":13,"day":171,"wc":0.15},{"site":13,"day":172,"wc":0.08},{"site":13,"day":173,"wc":0.1},{"site":13,"day":174,"wc":0.13},{"site":13,"day":175,"wc":0.18},{"site":13,"day":176,"wc":0.15},{"site":13,"day":177,"wc":0.13},{"site":13,"day":178,"wc":0.16},{"site":13,"day":179,"wc":0.13},{"site":13,"day":180,"wc":0.1},{"site":13,"day":181,"wc":0.12},{"site":13,"day":182,"wc":0.1},{"site":13,"day":183,"wc":0.08},{"site":13,"day":184,"wc":0.07},{"site":13,"day":185,"wc":0.05},{"site":13,"day":186,"wc":0.05},{"site":13,"day":187,"wc":0.04},{"site":13,"day":188,"wc":0.04},{"site":13,"day":189,"wc":0.05},{"site":13,"day":190,"wc":0.09},{"site":13,"day":191,"wc":0.08},{"site":13,"day":192,"wc":0.14},{"site":13,"day":193,"wc":0.13},{"site":13,"day":194,"wc":0.12},{"site":13,"day":195,"wc":0.12},{"site":13,"day":197,"wc":0.13},
{"site":2,"day":171,"wc":0.28},{"site":2,"day":172,"wc":0.26},{"site":2,"day":173,"wc":0.3},{"site":2,"day":174,"wc":0.28},{"site":2,"day":175,"wc":0.3},{"site":2,"day":176,"wc":0.32},{"site":2,"day":177,"wc":0.28},{"site":2,"day":178,"wc":0.3},{"site":2,"day":179,"wc":0.3},{"site":2,"day":180,"wc":0.27},{"site":2,"day":181,"wc":0.25},{"site":2,"day":182,"wc":0.28},{"site":2,"day":183,"wc":0.26},{"site":2,"day":184,"wc":0.22},{"site":2,"day":185,"wc":0.25},{"site":2,"day":186,"wc":0.27},{"site":2,"day":187,"wc":0.2},{"site":2,"day":188,"wc":0.28},{"site":2,"day":189,"wc":0.22},{"site":2,"day":190,"wc":0.15},{"site":2,"day":191,"wc":0.27},{"site":2,"day":192,"wc":0.22},{"site":2,"day":193,"wc":0.18},{"site":2,"day":194,"wc":0.25},{"site":2,"day":195,"wc":0.15},{"site":2,"day":196,"wc":0.25},{"site":2,"day":197,"wc":0.25},
{"site":43,"day":171,"wc":0.1},{"site":43,"day":172,"wc":0.06},{"site":43,"day":173,"wc":0.08},{"site":43,"day":174,"wc":0.12},{"site":43,"day":175,"wc":0.17},{"site":43,"day":176,"wc":0.13},{"site":43,"day":177,"wc":0.1},{"site":43,"day":178,"wc":0.08},{"site":43,"day":179,"wc":0.07},{"site":43,"day":180,"wc":0.08},{"site":43,"day":181,"wc":0.08},{"site":43,"day":182,"wc":0.06},{"site":43,"day":183,"wc":0.05},{"site":43,"day":184,"wc":0.06},{"site":43,"day":185,"wc":0.06},{"site":43,"day":186,"wc":0.04},{"site":43,"day":187,"wc":0.03},{"site":43,"day":188,"wc":0.03},{"site":43,"day":189,"wc":0.02},{"site":43,"day":190,"wc":0.01},{"site":43,"day":191,"wc":0.12},{"site":43,"day":192,"wc":0.11},{"site":43,"day":193,"wc":0.1},{"site":43,"day":195,"wc":0.1},{"site":43,"day":197,"wc":0.1},
{"site":42,"day":171,"wc":0.12},{"site":42,"day":172,"wc":0.15},{"site":42,"day":173,"wc":0.18},{"site":42,"day":174,"wc":0.2},{"site":42,"day":175,"wc":0.22},{"site":42,"day":176,"wc":0.23},{"site":42,"day":177,"wc":0.24},{"site":42,"day":178,"wc":0.23},{"site":42,"day":179,"wc":0.23},{"site":42,"day":180,"wc":0.22},{"site":42,"day":181,"wc":0.2},{"site":42,"day":182,"wc":0.05},{"site":42,"day":183,"wc":0.15},{"site":42,"day":184,"wc":0.12},{"site":42,"day":185,"wc":0.1},{"site":42,"day":186,"wc":0.12},{"site":42,"day":187,"wc":0.12},{"site":42,"day":188,"wc":0.1},{"site":42,"day":189,"wc":0.08},{"site":42,"day":190,"wc":0.06},{"site":42,"day":191,"wc":0.12},{"site":42,"day":192,"wc":0.05},{"site":42,"day":193,"wc":0.1},{"site":42,"day":194,"wc":0.09},{"site":42,"day":195,"wc":0.08},{"site":42,"day":196,"wc":0.1},{"site":42,"day":197,"wc":0.13},
{"site":29,"day":171,"wc":0.2},{"site":29,"day":172,"wc":0.1},{"site":29,"day":173,"wc":0.11},{"site":29,"day":174,"wc":0.13},{"site":29,"day":175,"wc":0.15},{"site":29,"day":176,"wc":0.17},{"site":29,"day":177,"wc":0.15},{"site":29,"day":178,"wc":0.14},{"site":29,"day":179,"wc":0.13},{"site":29,"day":180,"wc":0.12},{"site":29,"day":181,"wc":0.1},{"site":29,"day":182,"wc":0.08},{"site":29,"day":183,"wc":0.07},{"site":29,"day":184,"wc":0.08},{"site":29,"day":185,"wc":0.1},{"site":29,"day":186,"wc":0.06},{"site":29,"day":187,"wc":0.03},{"site":29,"day":188,"wc":0.05},{"site":29,"day":189,"wc":0.04},{"site":29,"day":190,"wc":0.03},{"site":29,"day":191,"wc":0.15},{"site":29,"day":192,"wc":0.12},{"site":29,"day":193,"wc":0.1},{"site":29,"day":194,"wc":0.1},{"site":29,"day":195,"wc":0.12},{"site":29,"day":197,"wc":0.1},
{"site":28,"day":171,"wc":0.17},{"site":28,"day":172,"wc":0.12},{"site":28,"day":173,"wc":0.1},{"site":28,"day":174,"wc":0.14},{"site":28,"day":175,"wc":0.2},{"site":28,"day":176,"wc":0.18},{"site":28,"day":177,"wc":0.21},{"site":28,"day":178,"wc":0.18},{"site":28,"day":179,"wc":0.15},{"site":28,"day":180,"wc":0.13},{"site":28,"day":181,"wc":0.12},{"site":28,"day":182,"wc":0.1},{"site":28,"day":183,"wc":0.08},{"site":28,"day":184,"wc":0.09},{"site":28,"day":185,"wc":0.1},{"site":28,"day":186,"wc":0.08},{"site":28,"day":187,"wc":0.06},{"site":28,"day":188,"wc":0.05},{"site":28,"day":189,"wc":0.05},{"site":28,"day":190,"wc":0.04},{"site":28,"day":191,"wc":0.18},{"site":28,"day":192,"wc":0.14},{"site":28,"day":193,"wc":0.1},{"site":28,"day":194,"wc":0.11},{"site":28,"day":195,"wc":0.12},{"site":28,"day":197,"wc":0.13},
{"site":15,"day":171,"wc":0.15},{"site":15,"day":172,"wc":0.1},{"site":15,"day":173,"wc":0.12},{"site":15,"day":174,"wc":0.14},{"site":15,"day":175,"wc":0.14},{"site":15,"day":176,"wc":0.15},{"site":15,"day":177,"wc":0.14},{"site":15,"day":178,"wc":0.13},{"site":15,"day":179,"wc":0.11},{"site":15,"day":180,"wc":0.1},{"site":15,"day":181,"wc":0.12},{"site":15,"day":182,"wc":0.1},{"site":15,"day":183,"wc":0.08},{"site":15,"day":184,"wc":0.07},{"site":15,"day":185,"wc":0.06},{"site":15,"day":186,"wc":0.06},{"site":15,"day":187,"wc":0.05},{"site":15,"day":188,"wc":0.04},{"site":15,"day":189,"wc":0.02},{"site":15,"day":190,"wc":0.0},{"site":15,"day":191,"wc":0.1},{"site":15,"day":192,"wc":0.09},{"site":15,"day":193,"wc":0.09},{"site":15,"day":195,"wc":0.09},{"site":15,"day":197,"wc":0.1},
{"site":14,"day":171,"wc":0.36},{"site":14,"day":172,"wc":0.34},{"site":14,"day":173,"wc":0.31},{"site":14,"day":174,"wc":0.33},{"site":14,"day":175,"wc":0.36},{"site":14,"day":176,"wc":0.385},{"site":14,"day":177,"wc":0.33},{"site":14,"day":178,"wc":0.36},{"site":14,"day":179,"wc":0.34},{"site":14,"day":180,"wc":0.31},{"site":14,"day":181,"wc":0.32},{"site":14,"day":182,"wc":0.32},{"site":14,"day":183,"wc":0.33},{"site":14,"day":184,"wc":0.34},{"site":14,"day":185,"wc":0.34},{"site":14,"day":186,"wc":0.32},{"site":14,"day":187,"wc":0.31},{"site":14,"day":188,"wc":0.32},{"site":14,"day":189,"wc":0.15},{"site":14,"day":190,"wc":0.3},{"site":14,"day":191,"wc":0.17},{"site":14,"day":192,"wc":0.22},{"site":14,"day":193,"wc":0.24},{"site":14,"day":194,"wc":0.2},{"site":14,"day":195,"wc":0.17},{"site":14,"day":196,"wc":0.15},{"site":14,"day":197,"wc":0.28},
{"site":1,"day":171,"wc":0.37},{"site":1,"day":172,"wc":0.37},{"site":1,"day":173,"wc":0.35},{"site":1,"day":174,"wc":0.34},{"site":1,"day":175,"wc":0.35},{"site":1,"day":176,"wc":0.355},{"site":1,"day":177,"wc":0.34},{"site":1,"day":178,"wc":0.35},{"site":1,"day":179,"wc":0.34},{"site":1,"day":180,"wc":0.34},{"site":1,"day":181,"wc":0.3},{"site":1,"day":182,"wc":0.275},{"site":1,"day":183,"wc":0.33},{"site":1,"day":184,"wc":0.32},{"site":1,"day":185,"wc":0.31},{"site":1,"day":186,"wc":0.185},{"site":1,"day":187,"wc":0.165},{"site":1,"day":188,"wc":0.22},{"site":1,"day":189,"wc":0.275},{"site":1,"day":190,"wc":0.2},{"site":1,"day":191,"wc":0.24},{"site":1,"day":192,"wc":0.285},{"site":1,"day":193,"wc":0.32},{"site":1,"day":194,"wc":0.28},{"site":1,"day":195,"wc":0.25},{"site":1,"day":196,"wc":0.3},{"site":1,"day":197,"wc":0.31}
]},
"layer":[
{"data":{"name":"wc"},
"transform":[{"lookup":"site","from":{"data":{"name":"sites"},"key":"site","fields":["easting","northing"]}},
{"calculate":"datum.easting+(datum.day-182)*2.616","as":"px"},
{"calculate":"datum.northing+(datum.wc-0.21)*150.7","as":"py"}],
"mark":{"type":"line","stroke":"black","strokeWidth":1.6,"strokeJoin":"round"},
"encoding":{
"x":{"field":"px","type":"quantitative","scale":{"domain":[0,800],"nice":false,"zero":false},
"axis":{"title":"Easting (m)","values":[100,200,300,400,500,600,700,800],"format":"d","tickSize":-4,"labelPadding":15,"titlePadding":2,"labelFlush":false}},
"y":{"field":"py","type":"quantitative","scale":{"domain":[0,800],"nice":false,"zero":false},
"axis":{"title":"Northing (m)","values":[100,200,300,400,500,600,700,800],"format":"d","tickSize":4,"labelPadding":6,"titlePadding":12,"labelFlush":false}},
"detail":{"field":"site"},
"order":{"field":"day","type":"quantitative"}}},
{"data":{"name":"sites"},
"transform":[{"calculate":"datum.easting-30.1","as":"x0"},{"calculate":"datum.northing-31.6","as":"y0"},{"calculate":"datum.northing+36.2","as":"y1"}],
"mark":{"type":"rule","color":"black","strokeWidth":1.3},
"encoding":{"x":{"field":"x0","type":"quantitative"},"y":{"field":"y0","type":"quantitative"},"y2":{"field":"y1"}}},
{"data":{"name":"sites"},
"transform":[{"calculate":"datum.easting-30.1","as":"x0"},{"calculate":"datum.easting+41.1","as":"x1"},{"calculate":"datum.northing-31.6","as":"y0"}],
"mark":{"type":"rule","color":"black","strokeWidth":1.3},
"encoding":{"x":{"field":"x0","type":"quantitative"},"x2":{"field":"x1"},"y":{"field":"y0","type":"quantitative"}}},
{"data":{"name":"sites"},
"transform":[{"calculate":"[175,180,185,190,195]","as":"t"},{"flatten":["t"]},{"calculate":"datum.easting+(datum.t-182)*2.616","as":"tx"},{"calculate":"datum.northing-31.6","as":"ya"},{"calculate":"datum.northing-28.1","as":"yb"}],
"mark":{"type":"rule","color":"black","strokeWidth":1},
"encoding":{"x":{"field":"tx","type":"quantitative"},"y":{"field":"ya","type":"quantitative"},"y2":{"field":"yb"}}},
{"data":{"name":"sites"},
"transform":[{"calculate":"[175,190]","as":"t"},{"flatten":["t"]},{"calculate":"datum.easting+(datum.t-182)*2.616","as":"tx"},{"calculate":"datum.northing-31.6","as":"ya"}],
"mark":{"type":"text","baseline":"top","align":"center","dy":3,"fontSize":11},
"encoding":{"x":{"field":"tx","type":"quantitative"},"y":{"field":"ya","type":"quantitative"},"text":{"field":"t","type":"quantitative","format":"d"}}},
{"data":{"name":"sites"},
"transform":[{"calculate":"[0.1,0.2,0.3,0.4]","as":"v"},{"flatten":["v"]},{"calculate":"datum.northing+(datum.v-0.21)*150.7","as":"ty"},{"calculate":"datum.easting-30.1","as":"xa"},{"calculate":"datum.easting-33.6","as":"xb"}],
"mark":{"type":"rule","color":"black","strokeWidth":1},
"encoding":{"x":{"field":"xb","type":"quantitative"},"x2":{"field":"xa"},"y":{"field":"ty","type":"quantitative"}}},
{"data":{"name":"sites"},
"transform":[{"calculate":"[0.2,0.4]","as":"v"},{"calculate":"['.2','.4']","as":"lab"},{"flatten":["v","lab"]},{"calculate":"datum.northing+(datum.v-0.21)*150.7","as":"ty"},{"calculate":"datum.easting-30.1","as":"xa"}],
"mark":{"type":"text","baseline":"middle","align":"right","dx":-6,"fontSize":11},
"encoding":{"x":{"field":"xa","type":"quantitative"},"y":{"field":"ty","type":"quantitative"},"text":{"field":"lab"}}},
{"data":{"name":"sites"},
"transform":[{"filter":"datum.box !== 'none'"},{"calculate":"length(toString(datum.site)) > 1 ? 11.5 : 7.5","as":"hw"},{"calculate":"datum.easting+8-datum.hw","as":"bx0"},{"calculate":"datum.easting+8+datum.hw","as":"bx1"},{"calculate":"datum.northing+21.1","as":"by0"},{"calculate":"datum.northing+36.1","as":"by1"}],
"mark":{"type":"rect","stroke":"black","strokeWidth":1},
"encoding":{"x":{"field":"bx0","type":"quantitative"},"x2":{"field":"bx1"},"y":{"field":"by0","type":"quantitative"},"y2":{"field":"by1"},
"fill":{"field":"box","type":"nominal","scale":{"domain":["shaded","white","black"],"range":["#c4c4c4","#ffffff","#000000"]},"legend":null}}},
{"data":{"name":"sites"},
"transform":[{"calculate":"datum.easting+8","as":"lx"},{"calculate":"datum.northing+28.6","as":"ly"}],
"mark":{"type":"text","baseline":"middle","align":"center","fontSize":11.5},
"encoding":{"x":{"field":"lx","type":"quantitative"},"y":{"field":"ly","type":"quantitative"},"text":{"field":"site"},
"color":{"condition":{"test":"datum.box === 'black'","value":"white"},"value":"black"}}},
{"data":{"name":"notes"},
"transform":[{"filter":"datum.size === 'large'"}],
"mark":{"type":"text","baseline":"middle","align":"left","fontSize":17},
"encoding":{"x":{"field":"easting","type":"quantitative"},"y":{"field":"northing","type":"quantitative"},"text":{"field":"label"}}},
{"data":{"name":"notes"},
"transform":[{"filter":"datum.size === 'small'"}],
"mark":{"type":"text","baseline":"middle","align":"left","fontSize":15},
"encoding":{"x":{"field":"easting","type":"quantitative"},"y":{"field":"northing","type":"quantitative"},"text":{"field":"label"}}},
{"data":{"name":"leaders"},
"mark":{"type":"rule","color":"black","strokeWidth":1.2},
"encoding":{"x":{"field":"e1","type":"quantitative"},"y":{"field":"n1","type":"quantitative"},"x2":{"field":"e2"},"y2":{"field":"n2"}}}
]
}
